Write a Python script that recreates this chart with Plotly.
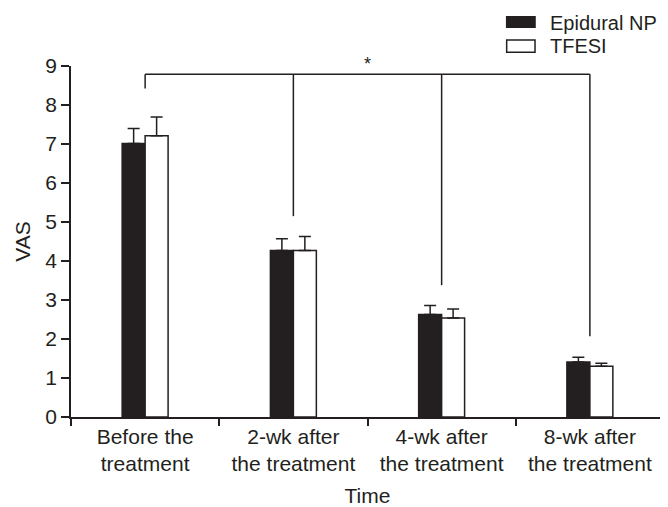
import plotly.graph_objects as go

categories = ["Before the<br>treatment", "2-wk after<br>the treatment",
              "4-wk after<br>the treatment", "8-wk after<br>the treatment"]
epidural_np = [7.01, 4.27, 2.63, 1.41]
epidural_np_err = [0.39, 0.30, 0.23, 0.12]
tfesi = [7.21, 4.27, 2.54, 1.30]
tfesi_err = [0.48, 0.36, 0.23, 0.08]
y_ticks = [0, 1, 2, 3, 4, 5, 6, 7, 8, 9]

INK = "#231f20"
FONT = dict(family="Liberation Sans, Arial, sans-serif", size=21, color=INK)
LEGEND_FONT = dict(family=FONT["family"], size=20, color=INK)

series = [
    dict(name="Epidural NP", y=epidural_np, err=epidural_np_err, fill=INK),
    dict(name="TFESI", y=tfesi, err=tfesi_err, fill="white"),
]

fig = go.Figure()
for s in series:
    fig.add_trace(go.Bar(
        name=s["name"], x=categories, y=s["y"], showlegend=False,
        marker=dict(color=s["fill"], line=dict(color=INK, width=1.5)),
        error_y=dict(type="data", symmetric=False, array=s["err"],
                     arrayminus=[0] * len(s["err"]),
                     color=INK, thickness=1.5, width=6),
    ))

# significance bracket
bracket_top = 8.79
bracket_ends = [8.42, 5.15, 3.38, 2.07]
line_style = dict(color=INK, width=1.5)
fig.add_shape(type="line", xref="x", yref="y", x0=0, x1=3,
              y0=bracket_top, y1=bracket_top, line=line_style)
for i, yend in enumerate(bracket_ends):
    fig.add_shape(type="line", xref="x", yref="y", x0=i, x1=i,
                  y0=bracket_top, y1=yend, line=line_style)
fig.add_annotation(x=1.5, y=bracket_top, xref="x", yref="y", text="*",
                   showarrow=False, yanchor="bottom", yshift=-2,
                   font=dict(family=FONT["family"], size=18, color=INK))

# legend (drawn as keys + labels, in paper coordinates)
legend_rows = [(1.1103, 1.1405, 1.1217), (1.039, 1.074, 1.0575)]
for s, (ky0, ky1, ty) in zip(series, legend_rows):
    fig.add_shape(type="rect", xref="paper", yref="paper",
                  x0=0.7347, x1=0.7825, y0=ky0, y1=ky1,
                  fillcolor=s["fill"], line=dict(color=INK, width=1.5))
    fig.add_annotation(xref="paper", yref="paper", x=0.806, y=ty,
                       xanchor="left", yanchor="middle", text=s["name"],
                       showarrow=False, font=LEGEND_FONT, borderpad=0)

# the page body has an 8px margin, so the figure is sized to fit the window
fig.update_layout(
    width=660, height=499,
    margin=dict(l=63, r=4, t=58, b=90, autoexpand=False),
    paper_bgcolor="white", plot_bgcolor="white",
    font=FONT,
    barmode="group", bargap=0.69, bargroupgap=0,
    showlegend=False,
    xaxis=dict(
        title=dict(text="Time", font=FONT, standoff=16),
        automargin=False,
        showline=True, linecolor=INK, linewidth=1.5,
        ticks="outside", tickson="boundaries", ticklen=7,
        tickcolor=INK, tickwidth=1.5, tickfont=FONT,
        showgrid=False, zeroline=False,
    ),
    yaxis=dict(
        title=dict(text="VAS", font=FONT, standoff=9),
        automargin=False,
        range=[0, 9], tickvals=y_ticks,
        showline=True, linecolor=INK, linewidth=1.5,
        ticks="outside", ticklen=8, tickcolor=INK, tickwidth=1.5,
        tickfont=FONT, showgrid=False, zeroline=False,
    ),
)

fig.write_html("out.html")
